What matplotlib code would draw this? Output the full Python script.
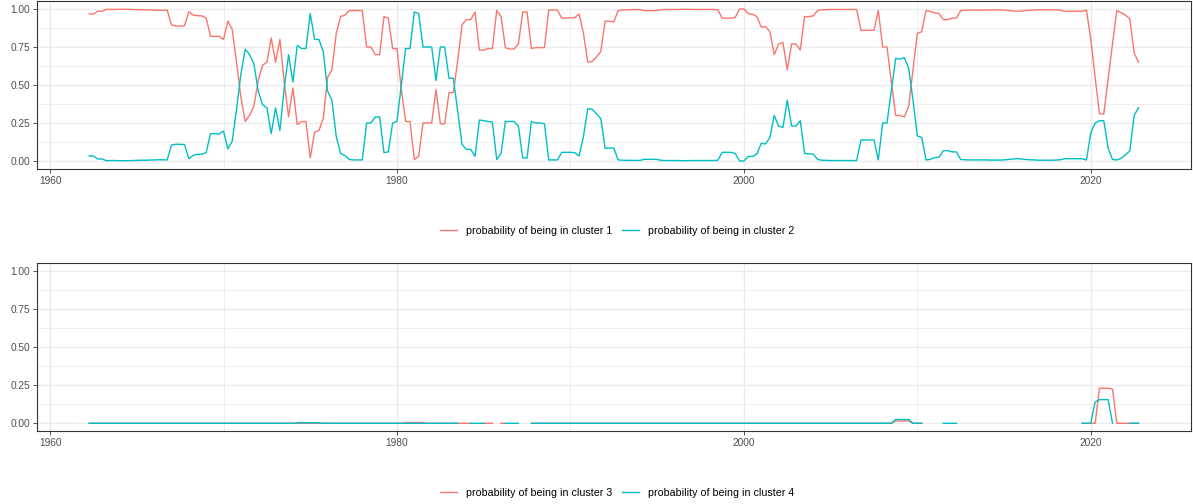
import numpy as np
import pandas as pd
import matplotlib
matplotlib.use("Agg")
import matplotlib.pyplot as plt
from matplotlib.lines import Line2D
from matplotlib.ticker import FixedLocator

nan = np.nan

# quarterly dates, 1962Q2 .. 2022Q4
quarters = pd.period_range("1962Q2", "2022Q4", freq="Q")
years = np.asarray(quarters.year + (quarters.quarter - 1) / 4, dtype=float)

# probability of cluster 1 (top panel, red)
c1 = [0.967, 0.967, 0.985, 0.985, 0.998, 0.997, 0.997, 0.998, 0.998, 0.998,
      0.997, 0.996, 0.995, 0.995, 0.994, 0.993, 0.992, 0.992, 0.993, 0.895,
      0.888, 0.888, 0.890, 0.982, 0.960, 0.956, 0.955, 0.940, 0.820, 0.820,
      0.820, 0.800, 0.920, 0.866, 0.650, 0.420, 0.260, 0.300, 0.360, 0.530,
      0.630, 0.650, 0.810, 0.650, 0.800, 0.520, 0.290, 0.480, 0.240, 0.260,
      0.260, 0.020, 0.190, 0.200, 0.280, 0.550, 0.600, 0.840, 0.950, 0.960,
      0.990, 0.990, 0.990, 0.990, 0.750, 0.750, 0.700, 0.700, 0.950, 0.940,
      0.740, 0.740, 0.470, 0.260, 0.260, 0.010, 0.030, 0.250, 0.250, 0.250,
      0.470, 0.245, 0.245, 0.450, 0.450, 0.660, 0.895, 0.930, 0.930, 0.980,
      0.730, 0.730, 0.740, 0.740, 0.990, 0.950, 0.745, 0.737, 0.737, 0.770,
      0.980, 0.980, 0.740, 0.746, 0.746, 0.746, 0.993, 0.993, 0.993, 0.940,
      0.940, 0.943, 0.943, 0.967, 0.840, 0.650, 0.655, 0.685, 0.720, 0.920,
      0.920, 0.915, 0.990, 0.993, 0.995, 0.996, 0.997, 0.996, 0.989, 0.989,
      0.989, 0.990, 0.996, 0.997, 0.997, 0.997, 0.997, 0.998, 0.998, 0.997,
      0.997, 0.997, 0.997, 0.997, 0.997, 0.995, 0.940, 0.940, 0.940, 0.945,
      1.000, 1.000, 0.970, 0.965, 0.950, 0.880, 0.885, 0.850, 0.700, 0.770,
      0.780, 0.600, 0.770, 0.770, 0.730, 0.950, 0.950, 0.955, 0.990, 0.995,
      0.996, 0.997, 0.997, 0.997, 0.997, 0.997, 0.997, 0.997, 0.860, 0.860,
      0.860, 0.860, 0.990, 0.750, 0.750, 0.520, 0.300, 0.300, 0.290, 0.360,
      0.600, 0.840, 0.850, 0.990, 0.985, 0.975, 0.970, 0.930, 0.930, 0.940,
      0.940, 0.990, 0.992, 0.993, 0.993, 0.993, 0.993, 0.993, 0.994, 0.994,
      0.994, 0.993, 0.990, 0.987, 0.985, 0.987, 0.990, 0.992, 0.993, 0.995,
      0.995, 0.995, 0.995, 0.994, 0.992, 0.985, 0.985, 0.985, 0.985, 0.985,
      0.993, 0.800, 0.550, 0.310, 0.310, 0.540, 0.770, 0.990, 0.975, 0.960,
      0.935, 0.710, 0.650]

# probability of cluster 2 (top panel, cyan)
c2 = [0.033, 0.033, 0.013, 0.013, 0.002, 0.003, 0.003, 0.002, 0.002, 0.002,
      0.003, 0.004, 0.005, 0.005, 0.006, 0.007, 0.008, 0.008, 0.007, 0.105,
      0.110, 0.110, 0.108, 0.015, 0.037, 0.044, 0.044, 0.055, 0.180, 0.180,
      0.178, 0.197, 0.080, 0.130, 0.340, 0.570, 0.735, 0.700, 0.640, 0.460,
      0.370, 0.350, 0.180, 0.350, 0.200, 0.480, 0.700, 0.520, 0.760, 0.740,
      0.740, 0.970, 0.800, 0.800, 0.720, 0.460, 0.400, 0.160, 0.050, 0.035,
      0.010, 0.007, 0.007, 0.007, 0.250, 0.250, 0.290, 0.290, 0.055, 0.060,
      0.250, 0.260, 0.500, 0.740, 0.740, 0.980, 0.970, 0.750, 0.750, 0.750,
      0.530, 0.750, 0.750, 0.545, 0.545, 0.330, 0.110, 0.077, 0.077, 0.030,
      0.270, 0.265, 0.260, 0.255, 0.010, 0.050, 0.260, 0.260, 0.260, 0.230,
      0.020, 0.020, 0.260, 0.250, 0.250, 0.245, 0.007, 0.007, 0.007, 0.057,
      0.057, 0.057, 0.055, 0.033, 0.160, 0.345, 0.340, 0.310, 0.280, 0.083,
      0.085, 0.085, 0.007, 0.005, 0.004, 0.004, 0.004, 0.004, 0.011, 0.011,
      0.011, 0.010, 0.004, 0.003, 0.003, 0.003, 0.003, 0.002, 0.002, 0.003,
      0.003, 0.003, 0.003, 0.003, 0.003, 0.005, 0.057, 0.057, 0.057, 0.050,
      0.000, 0.000, 0.030, 0.030, 0.046, 0.116, 0.112, 0.155, 0.300, 0.230,
      0.220, 0.400, 0.230, 0.230, 0.265, 0.050, 0.046, 0.046, 0.010, 0.005,
      0.004, 0.003, 0.003, 0.003, 0.003, 0.003, 0.003, 0.003, 0.138, 0.138,
      0.138, 0.138, 0.007, 0.250, 0.250, 0.460, 0.675, 0.670, 0.680, 0.610,
      0.400, 0.165, 0.155, 0.007, 0.011, 0.022, 0.025, 0.068, 0.068, 0.060,
      0.060, 0.010, 0.008, 0.007, 0.007, 0.007, 0.007, 0.007, 0.006, 0.006,
      0.006, 0.007, 0.010, 0.013, 0.015, 0.013, 0.010, 0.008, 0.007, 0.005,
      0.005, 0.005, 0.005, 0.006, 0.008, 0.015, 0.015, 0.015, 0.015, 0.015,
      0.007, 0.186, 0.250, 0.265, 0.265, 0.083, 0.010, 0.007, 0.018, 0.040,
      0.066, 0.300, 0.350]

# probability of cluster 3 (bottom panel, red)
c3 = [0, 0, 0, 0, 0, 0, 0, 0, 0, 0,
      0, 0, 0, 0, 0, 0, 0, 0, 0, 0,
      0, 0, 0, 0, 0, 0, 0, 0, 0, 0,
      0, 0, 0, 0, 0, 0, 0, 0, 0, 0,
      0, 0, 0, 0, 0, 0, 0, 0, 0, 0,
      0, 0, 0, 0, 0, 0, 0, 0, 0, 0,
      0, 0, 0, 0, 0, 0, 0, 0, 0, 0,
      0, 0, 0, 0.005, 0.005, 0.005, 0.005, 0.005, 0, 0,
      0, 0, 0, 0, 0, 0, 0, 0, 0, nan,
      nan, 0, 0, 0, nan, 0, 0, nan, nan, nan,
      nan, nan, 0, 0, 0, 0, 0, 0, 0, 0,
      0, 0, 0, 0, 0, 0, 0, 0, 0, 0,
      0, 0, 0, 0, 0, 0, 0, 0, 0, 0,
      0, 0, 0, 0, 0, 0, 0, 0, 0, 0,
      0, 0, 0, 0, 0, 0, 0, 0, 0, 0,
      0, 0, 0, 0, 0, 0, 0, 0, 0, 0,
      0, 0, 0, 0, 0, 0, 0, 0, 0, 0,
      0, 0, 0, 0, 0, 0, 0, 0, 0, 0,
      0, 0, 0, 0, 0, 0, 0.015, 0.015, 0.015, 0.015,
      0, 0, 0, nan, nan, nan, nan, nan, nan, nan,
      nan, nan, nan, nan, nan, nan, nan, nan, nan, nan,
      nan, nan, nan, nan, nan, nan, nan, nan, nan, nan,
      nan, nan, nan, nan, nan, nan, nan, nan, nan, 0,
      0, 0, 0, 0.230, 0.230, 0.230, 0.225, 0, 0, 0,
      0, 0, 0]

# probability of cluster 4 (bottom panel, cyan)
c4 = [0, 0, 0, 0, 0, 0, 0, 0, 0, 0,
      0, 0, 0, 0, 0, 0, 0, 0, 0, 0,
      0, 0, 0, 0, 0, 0, 0, 0, 0, 0,
      0, 0, 0, 0, 0, 0, 0, 0, 0, 0,
      0, 0, 0, 0, 0, 0, 0, 0, 0.003, 0.003,
      0.003, 0.003, 0.003, 0.003, 0, 0, 0, 0, 0, 0,
      0, 0, 0, 0, 0, 0, 0, 0, 0, 0,
      0, 0, 0, 0, 0, 0, 0, 0, 0, 0,
      0, 0, 0, 0, 0, 0, nan, nan, 0, 0,
      0, 0, nan, nan, nan, nan, 0, 0, 0, 0,
      nan, nan, 0, 0, 0, 0, 0, 0, 0, 0,
      0, 0, 0, 0, 0, 0, 0, 0, 0, 0,
      0, 0, 0, 0, 0, 0, 0, 0, 0, 0,
      0, 0, 0, 0, 0, 0, 0, 0, 0, 0,
      0, 0, 0, 0, 0, 0, 0, 0, 0, 0,
      0, 0, 0, 0, 0, 0, 0, 0, 0, 0,
      0, 0, 0, 0, 0, 0, 0, 0, 0, 0,
      0, 0, 0, 0, 0, 0, 0, 0, 0, 0,
      0, 0, 0, 0, 0, 0, 0.025, 0.025, 0.025, 0.025,
      0, 0, 0, nan, nan, nan, nan, 0, 0, 0,
      0, nan, nan, nan, nan, nan, nan, nan, nan, nan,
      nan, nan, nan, nan, nan, nan, nan, nan, nan, nan,
      nan, nan, nan, nan, nan, nan, nan, nan, nan, 0,
      0, 0, 0.140, 0.155, 0.155, 0.155, 0, nan, nan, nan,
      0, 0, 0]

labels_top = ["probability of being in cluster 1", "probability of being in cluster 2"]
labels_bot = ["probability of being in cluster 3", "probability of being in cluster 4"]

RED = "#F8766D"
CYAN = "#00BFC4"
GRID = "#EBEBEB"
TXT = "#4D4D4D"

plt.rcParams["font.family"] = ["Liberation Sans", "DejaVu Sans"]

fig = plt.figure(figsize=(11.93, 5.04), dpi=100)


def panel(rect, a, b, labels, leg_y):
    ax = fig.add_axes(rect)
    ax.plot(years, np.array(a, dtype=float), color=RED, lw=1.0)
    ax.plot(years, np.array(b, dtype=float), color=CYAN, lw=1.0)
    ax.set_xlim(1959.225, 2025.775)
    ax.set_ylim(-0.05, 1.05)
    ax.xaxis.set_major_locator(FixedLocator([1960, 1980, 2000, 2020]))
    ax.xaxis.set_minor_locator(FixedLocator([1970, 1990, 2010]))
    ax.yaxis.set_major_locator(FixedLocator([0, 0.25, 0.5, 0.75, 1.0]))
    ax.yaxis.set_minor_locator(FixedLocator([0.125, 0.375, 0.625, 0.875]))
    ax.set_yticklabels(["0.00", "0.25", "0.50", "0.75", "1.00"])
    ax.grid(which="major", color=GRID, lw=1.0)
    ax.grid(which="minor", color=GRID, lw=0.6)
    ax.set_axisbelow(True)
    ax.tick_params(which="major", length=2.7, width=0.6, color="#333333",
                   labelsize=7.3, labelcolor=TXT)
    ax.tick_params(axis="x", which="major", pad=2.5)
    ax.tick_params(axis="y", which="major", pad=1.8)
    ax.tick_params(which="minor", length=0)
    for s in ax.spines.values():
        s.set_color("#333333")
        s.set_linewidth(0.8)
    handles = [Line2D([], [], color=RED, lw=1.0), Line2D([], [], color=CYAN, lw=1.0)]
    fig.legend(handles, labels, loc="center", bbox_to_anchor=(0.517, leg_y),
               ncol=2, frameon=False, fontsize=7.7, handlelength=1.65,
               handletextpad=0.8, columnspacing=0.9, labelcolor="#000000")
    return ax


panel([0.0307, 0.6655, 0.9676, 0.3317], c1, c2, labels_top, 0.5417)
panel([0.0307, 0.1450, 0.9676, 0.3329], c3, c4, labels_bot, 0.0218)

fig.savefig("out.png", dpi=100)
